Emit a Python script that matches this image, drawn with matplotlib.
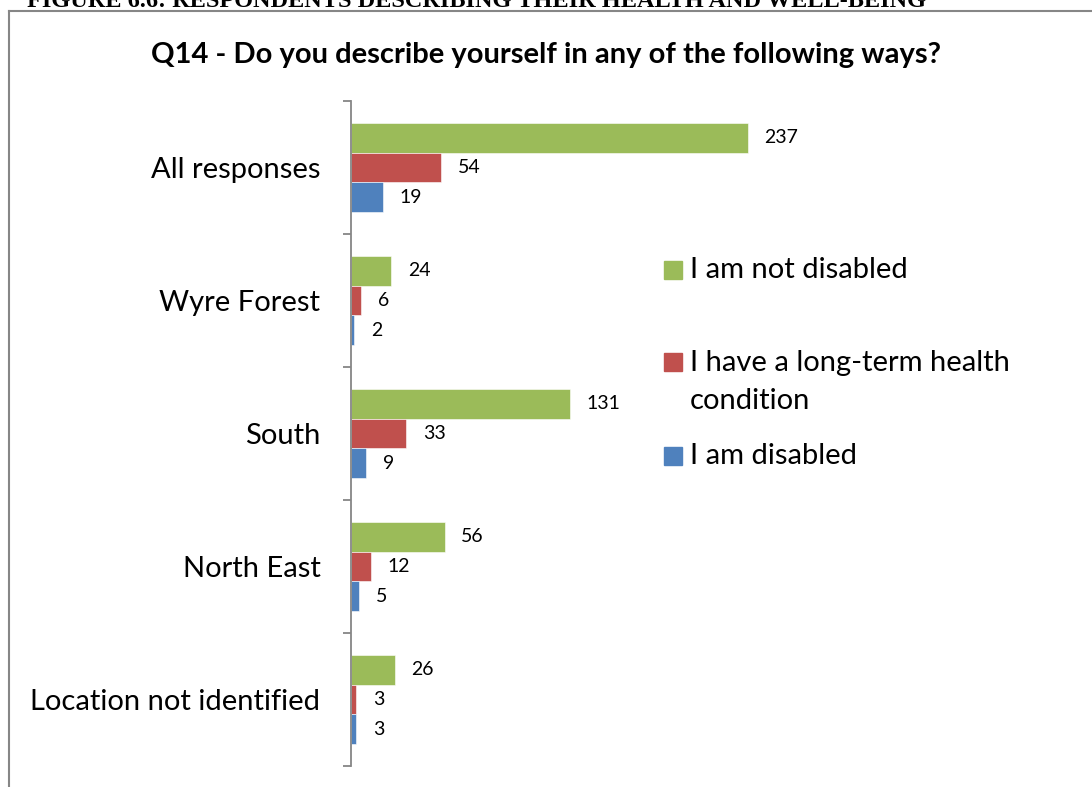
import numpy as np
import matplotlib
matplotlib.use("Agg")
import matplotlib.pyplot as plt
from matplotlib.patches import Rectangle
from matplotlib.lines import Line2D

plt.rcParams['font.family'] = ['Lato', 'DejaVu Sans']

# data
categories = ['All responses', 'Wyre Forest', 'South', 'North East', 'Location not identified']
not_disabled = [237, 24, 131, 56, 26]
long_term = [54, 6, 33, 12, 3]
disabled = [19, 2, 9, 5, 3]
series_names = ['I am not disabled', 'I have a long-term health\ncondition', 'I am disabled']
colors = ['#9BBB59', '#C0504D', '#4F81BD']

W, H = 1092, 787
fig = plt.figure(figsize=(W / 100, H / 100), dpi=100)

# cut-off caption from the page above the chart
fig.text(27 / W, 1 - 7 / H, 'FIGURE 6.6: RESPONDENTS DESCRIBING THEIR HEALTH AND WELL-BEING',
         family='Liberation Serif', fontweight='bold', fontsize=17.5, va='baseline', ha='left')

# chart frame (left and top edges visible)
fig.add_artist(Line2D([9 / W, 9 / W], [0, 1 - 11 / H], color='#868686', lw=1.5))
fig.add_artist(Line2D([9 / W, 1], [1 - 11 / H, 1 - 11 / H], color='#868686', lw=1.5))

fig.text(546 / W, 1 - 55 / H, 'Q14 - Do you describe yourself in any of the following ways?',
         fontweight='bold', fontsize=21, ha='center', va='center')

ax = fig.add_axes([351 / W, 1 - 766 / H, 502 / W, 665 / H])

y = np.arange(len(categories))
h = 0.222
all_series = [not_disabled, long_term, disabled]
for k, vals in enumerate(all_series):
    bars = ax.barh(y + (k - 1) * h, vals, height=h, color=colors[k],
                   edgecolor='white', linewidth=0.4)
    for b, v in zip(bars, vals):
        ax.annotate(str(v), (b.get_width(), b.get_y() + b.get_height() / 2),
                    xytext=(12, 0), textcoords='offset points',
                    va='center', ha='left', fontsize=14)

ax.set_xlim(0, 300)
ax.set_ylim(len(categories) - 0.5, -0.5)
for s in ['top', 'right', 'bottom']:
    ax.spines[s].set_visible(False)
ax.spines['left'].set_color('#868686')
ax.spines['left'].set_linewidth(1.3)
ax.set_xticks([])
ax.set_yticks(np.arange(len(categories) + 1) - 0.5)
ax.set_yticklabels([])
ax.tick_params(axis='y', which='major', length=6, color='#868686', width=1.3)
ax.set_yticks(y, minor=True)
ax.set_yticklabels(categories, minor=True, fontsize=21)
ax.tick_params(axis='y', which='minor', length=0, pad=22)
ax.patch.set_alpha(0)

# legend
leg_y = [270, 382, 456]
box_y = [270, 362, 456]
for k in range(3):
    fig.add_artist(Rectangle((664 / W, 1 - (box_y[k] + 9) / H), 18 / W, 18 / H, color=colors[k]))
    fig.text(690 / W, 1 - leg_y[k] / H, series_names[k], fontsize=21, va='center', ha='left',
             linespacing=1.55)

fig.savefig('out.png', dpi=100)
